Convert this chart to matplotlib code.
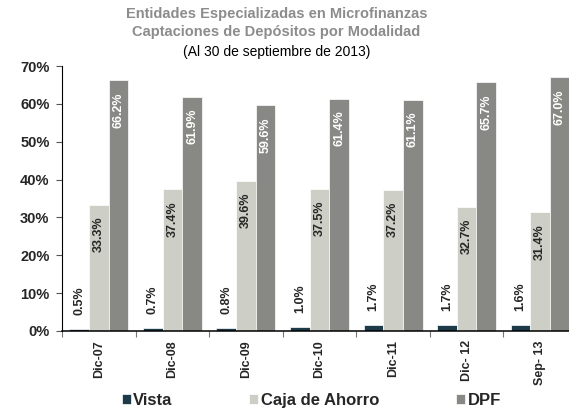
import numpy as np
import matplotlib
matplotlib.use("Agg")
import matplotlib.pyplot as plt

plt.rcParams['font.family'] = ['Liberation Sans', 'DejaVu Sans']

# datos (porcentaje de captaciones)
periodos = ['Dic-07', 'Dic-08', 'Dic-09', 'Dic-10', 'Dic-11', 'Dic- 12', 'Sep- 13']
vista = [0.5, 0.7, 0.8, 1.0, 1.7, 1.7, 1.6]
caja_ahorro = [33.3, 37.4, 39.6, 37.5, 37.2, 32.7, 31.4]
dpf = [66.2, 61.9, 59.6, 61.4, 61.1, 65.7, 67.0]

col_vista = '#1d3a49'
col_caja = '#cdcec6'
col_dpf = '#888884'

fig = plt.figure(figsize=(5.69, 4.09), dpi=100)
ax = fig.add_axes([62/569, 78/409, 515/569, 265/409])

x = np.arange(len(periodos))
w = 0.267
b1 = ax.bar(x - w, vista, w, color=col_vista, edgecolor='white', linewidth=0.5, label='Vista')
b2 = ax.bar(x, caja_ahorro, w, color=col_caja, edgecolor='white', linewidth=0.5, label='Caja de Ahorro')
b3 = ax.bar(x + w, dpf, w, color=col_dpf, edgecolor='white', linewidth=0.5, label='DPF')

# etiquetas de valores
for xi, v in zip(x - w, vista):
    ax.annotate(f'{v:.1f}%', (xi, v), xytext=(0, 10), textcoords='offset points',
                rotation=90, ha='center', va='bottom', fontsize=9, fontweight='bold', color='#262626')
for xi, v in zip(x, caja_ahorro):
    ax.annotate(f'{v:.1f}%', (xi, v), xytext=(0, -8.5), textcoords='offset points',
                rotation=90, ha='center', va='top', fontsize=9, fontweight='bold', color='#262626')
for xi, v in zip(x + w, dpf):
    ax.annotate(f'{v:.1f}%', (xi, v), xytext=(0, -8.5), textcoords='offset points',
                rotation=90, ha='center', va='top', fontsize=9, fontweight='bold', color='white')

ax.set_xlim(-0.5, len(periodos) - 0.5)
ax.set_ylim(0, 70)
ax.set_yticks(np.arange(0, 71, 10))
ax.set_yticklabels([f'{t}%' for t in range(0, 71, 10)], fontsize=10.5, fontweight='bold', color='#262626')
ax.set_xticks(x)
ax.set_xticklabels(periodos, rotation=90, fontsize=9, fontweight='bold', color='#262626')
ax.set_xticks(np.arange(-0.5, len(periodos), 1), minor=True)
ax.tick_params(axis='x', which='major', length=0, pad=6.5)
ax.tick_params(axis='x', which='minor', length=4, width=0.8, color='#777777')
ax.tick_params(axis='y', length=4, width=0.8, color='#555555', pad=5)

for s in ['top', 'right']:
    ax.spines[s].set_visible(False)
ax.spines['left'].set_linewidth(0.8)
ax.spines['bottom'].set_linewidth(1.1)

fig.text(0.486, 0.966, 'Entidades Especializadas en Microfinanzas', ha='center', va='center',
         fontsize=10.5, fontweight='bold', color='#8c8c8c')
fig.text(0.486, 0.922, 'Captaciones de Depósitos por Modalidad', ha='center', va='center',
         fontsize=10.5, fontweight='bold', color='#8c8c8c')
fig.text(0.486, 0.873, '(Al 30 de septiembre de 2013)', ha='center', va='center',
         fontsize=10, color='black')

leg = fig.legend(handles=[b1, b2, b3], loc='center', bbox_to_anchor=(0.547, 0.022), ncol=3,
                 frameon=False, handlelength=0.55, handleheight=0.55, handletextpad=0.15,
                 columnspacing=4.6, prop={'weight': 'bold', 'size': 12})
for t in leg.get_texts():
    t.set_color('#262626')

fig.savefig('out.png', dpi=100)
